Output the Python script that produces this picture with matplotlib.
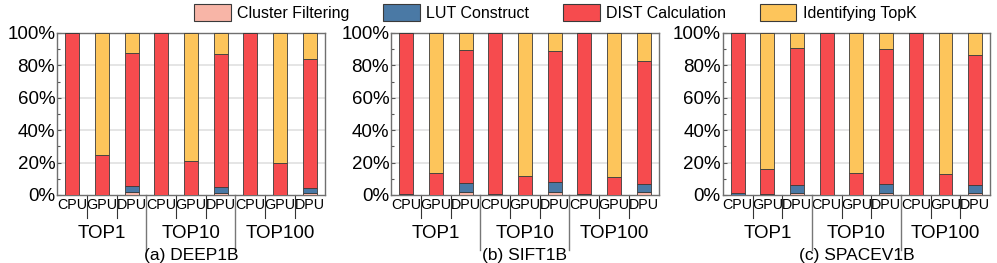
import matplotlib
matplotlib.use("Agg")
import matplotlib.pyplot as plt
import matplotlib.transforms as mtransforms
from matplotlib.patches import Patch
import numpy as np

plt.rcParams['font.family'] = ['Liberation Sans', 'DejaVu Sans']

bar_labels = ["CPU", "GPU", "DPU"] * 3
group_labels = ["TOP1", "TOP10", "TOP100"]
panel_titles = ["(a) DEEP1B", "(b) SIFT1B", "(c) SPACEV1B"]
series_names = ["Cluster Filtering", "LUT Construct", "DIST Calculation", "Identifying TopK"]
colors = ["#F8B5A7", "#4A79A5", "#F64B4E", "#FDC55B"]

# DEEP1B (percent)
deep_cluster = [0.3, 0, 2.0, 0.3, 0, 1.0, 0.3, 0, 1.0]
deep_lut     = [0, 0, 3.5, 0, 0, 4.0, 0, 0, 3.5]
deep_dist    = [99.7, 24.5, 82.2, 99.7, 21.0, 82.0, 99.7, 20.0, 79.5]
deep_topk    = [0, 75.5, 12.3, 0, 79.0, 13.0, 0, 80.0, 16.0]

# SIFT1B
sift_cluster = [0.3, 0, 2.0, 0.3, 0, 2.0, 0.3, 0, 2.0]
sift_lut     = [0.3, 0.3, 5.4, 0.3, 0, 6.0, 0.3, 0, 5.0]
sift_dist    = [99.4, 13.5, 81.9, 99.4, 11.7, 80.7, 99.4, 11.1, 75.5]
sift_topk    = [0, 86.2, 10.7, 0, 88.3, 11.3, 0, 88.9, 17.5]

# SPACEV1B
spacev_cluster = [0, 0, 1.0, 0, 0, 1.0, 0, 0, 1.0]
spacev_lut     = [1.2, 0.5, 5.2, 0, 0.3, 6.0, 0, 0, 5.2]
spacev_dist    = [98.8, 15.5, 84.5, 100.0, 13.3, 83.0, 100.0, 13.2, 80.4]
spacev_topk    = [0, 84.0, 9.3, 0, 86.4, 10.0, 0, 86.8, 13.4]

panels = [
    [deep_cluster, deep_lut, deep_dist, deep_topk],
    [sift_cluster, sift_lut, sift_dist, sift_topk],
    [spacev_cluster, spacev_lut, spacev_dist, spacev_topk],
]

fig = plt.figure(figsize=(9.97, 2.63), dpi=100)
lefts = [0.0575, 0.3925, 0.725]
width = 0.268
bottom = 0.2586
height = 0.616

x = np.arange(len(bar_labels))
for i, (left, data, title) in enumerate(zip(lefts, panels, panel_titles)):
    ax = fig.add_axes([left, bottom, width, height])
    base = np.zeros(len(x))
    for vals, c in zip(data, colors):
        v = np.array(vals, dtype=float)
        ax.bar(x, v, width=0.47, bottom=base, color=c, edgecolor="#3a3a3a",
               linewidth=0.6, zorder=3)
        base += v
    ax.set_xlim(-0.5, 8.5)
    ax.set_ylim(0, 100)
    ax.set_yticks([0, 20, 40, 60, 80, 100])
    ax.set_yticklabels([f"{t}%" for t in [0, 20, 40, 60, 80, 100]], fontsize=13.5)
    ax.set_yticks([10, 30, 50, 70, 90], minor=True)
    ax.tick_params(axis='y', which='both', direction='in', length=3, width=0.8,
                   color="#555555", pad=1.5)
    ax.tick_params(axis='y', which='minor', length=2)
    ax.set_xticks(x)
    ax.set_xticklabels(bar_labels, fontsize=10.3)
    ax.tick_params(axis='x', length=0, pad=2.5)
    for y in [20, 40, 60, 80]:
        ax.axhline(y, color="#e3e3e3", linewidth=1.3, zorder=1)
    for s in ax.spines.values():
        s.set_color("#6f6f6f")
        s.set_linewidth(1.0)
    trans = mtransforms.blended_transform_factory(ax.transData, ax.transAxes)
    for xs in [0.5, 1.5, 3.5, 4.5, 6.5, 7.5]:
        ax.plot([xs, xs], [0, -0.14], transform=trans, color="#333333",
                linewidth=0.8, clip_on=False)
    for xs in [2.5, 5.5]:
        ax.plot([xs, xs], [0, -0.34], transform=trans, color="#777777",
                linewidth=1.0, clip_on=False)
    for g, gl in enumerate(group_labels):
        ax.text(3 * g + 1, -0.235, gl, transform=trans, ha='center', va='center',
                fontsize=13.5)
    ax.text(0.5, -0.375, title, transform=ax.transAxes, ha='center', va='center',
            fontsize=12.5)

handles = [Patch(facecolor=c, edgecolor="#3a3a3a", linewidth=0.8) for c in colors]
fig.legend(handles, series_names, loc='center', bbox_to_anchor=(0.557, 0.953),
           ncol=4, frameon=False, fontsize=11.5, handlelength=2.3,
           handleheight=1.25, handletextpad=0.4, columnspacing=2.1,
           borderaxespad=0, borderpad=0)

fig.savefig("out.png", dpi=100)
